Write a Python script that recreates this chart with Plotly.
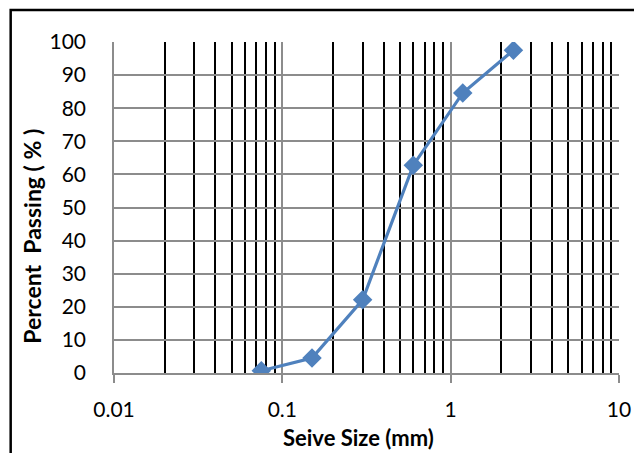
import plotly.graph_objects as go

sieve_size_mm = [0.075, 0.15, 0.3, 0.6, 1.18, 2.36]
percent_passing = [0.7, 4.5, 22.1, 62.8, 84.6, 97.5]

x_major_ticks = [0.01, 0.1, 1, 10]
x_major_labels = ["0.01", "0.1", "1", "10"]
x_minor_ticks = [k * 10 ** e for e in (-2, -1, 0) for k in range(2, 10)]
y_ticks = list(range(0, 101, 10))

font_family = "Lato"

fig = go.Figure()
fig.add_trace(go.Scatter(
    x=sieve_size_mm, y=percent_passing, mode="lines+markers",
    line=dict(color="#4F81BD", width=3.2),
    marker=dict(symbol="diamond", size=15, color="#4F81BD"),
    showlegend=False,
))

fig.update_layout(
    width=634, height=453,
    margin=dict(l=114, r=15, t=42, b=80),
    paper_bgcolor="white", plot_bgcolor="white",
    font=dict(family=font_family, color="black", size=21),
    xaxis=dict(
        type="log", range=[-2, 1], automargin=False,
        tickmode="array", tickvals=x_major_ticks, ticktext=x_major_labels,
        showgrid=True, gridcolor="#8C8C8C", gridwidth=1.5,
        ticks="outside", ticklen=8, tickcolor="#8C8C8C", tickwidth=1.5,
        ticklabelstandoff=9,
        minor=dict(tickmode="array", tickvals=x_minor_ticks, showgrid=True,
                   gridcolor="black", gridwidth=1.8, ticks=""),
        showline=True, linecolor="#8C8C8C", linewidth=1.5,
        zeroline=False,
        tickfont=dict(size=21),
    ),
    yaxis=dict(
        range=[0, 100], tickmode="array", tickvals=y_ticks, automargin=False,
        showgrid=True, gridcolor="#8C8C8C", gridwidth=1.5,
        ticks="", ticklabelstandoff=22,
        showline=True, linecolor="#8C8C8C", linewidth=1.5,
        zeroline=False,
        tickfont=dict(size=21),
    ),
    annotations=[
        dict(text="<b>Seive Size (mm)</b>", xref="paper", yref="paper",
             x=0.4846, y=-0.195, xanchor="center", yanchor="middle",
             showarrow=False, font=dict(size=22)),
        dict(text="<b>Percent\u00a0\u00a0Passing ( % )</b>", xref="paper", yref="paper",
             x=-0.163, y=0.414, xanchor="center", yanchor="middle", textangle=-90,
             showarrow=False, font=dict(size=23)),
    ],
    shapes=[dict(type="rect", xref="paper", yref="paper",
                 x0=-0.2046, x1=1.5, y0=-1.0, y1=1.0966,
                 line=dict(color="black", width=2.5), layer="above")],
)

fig.write_html("out.html", config={"displayModeBar": False},
               post_script="document.body.style.margin='0';")
